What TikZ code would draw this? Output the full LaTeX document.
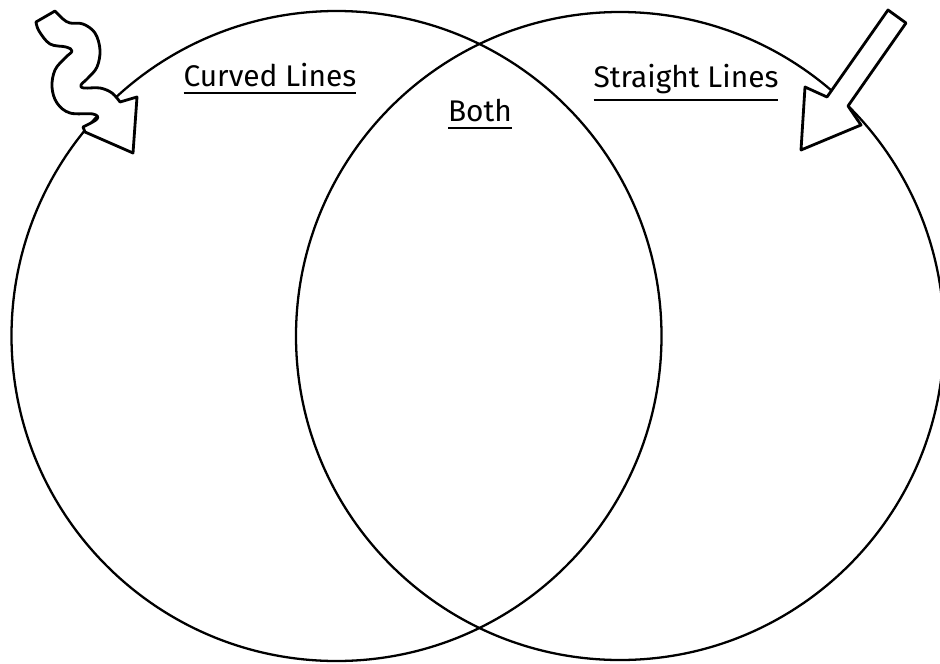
\documentclass[tikz,border=0pt]{standalone}
\usepackage{fontspec}
\setmainfont{Fira Sans}
\usetikzlibrary{positioning}
\newcommand{\ulhead}[1]{\vtop{\hbox{#1}\kern 3pt\hrule height 1.5pt}}

\begin{document}
\begin{tikzpicture}[x=0.02cm, y=-0.02cm,
    ring/.style={draw=black, line width=1.3pt},
    heading/.style={font=\fontsize{17}{20}\selectfont, anchor=base, inner sep=0pt},
    bigarrow/.style={draw=black, fill=white, line width=1.6pt, line join=round}]
    \useasboundingbox (0,0) rectangle (940,663);
    \fill[white] (0,0) rectangle (940,663);

    % the two sets
    \node[ring, circle, minimum size=650*0.02cm, inner sep=0pt] (curved) at (336.5,336) {};
    \node[ring, circle, minimum size=648*0.02cm, inner sep=0pt] (straight) at (620,336) {};

    % headings
    \node[heading] (curvedtitle) at (270,86) {\ulhead{Curved Lines}};
    \node[heading] (bothtitle) at (480,121) {\ulhead{Both}};
    \node[heading] (straighttitle) at (686,87) {\ulhead{Straight Lines}};

    % wavy arrow into the left set
    \draw[bigarrow] (36,22) -- (55,11)
        -- plot[smooth, tension=0.6] coordinates {(55,11) (63,19) (70,23) (83,24) (95,33) (100,50) (97,67) (88,78) (81,85) (84,88) (100,88) (112,93) (120,102)}
        -- (137,97) -- (133,153) -- (85,132) -- (83,127)
        -- plot[smooth, tension=0.6] coordinates {(83,127) (97,119) (93,114) (70,113) (57,103) (52,87) (55,70) (65,58) (72,51) (66,47) (50,44) (39,31) (36,22)}
        -- cycle;

    % straight arrow into the right set
    \draw[bigarrow] (888,10) -- (906,23) -- (848,106) -- (861,125) -- (801,150) -- (805,87) -- (827,97) -- cycle;
\end{tikzpicture}
\end{document}
